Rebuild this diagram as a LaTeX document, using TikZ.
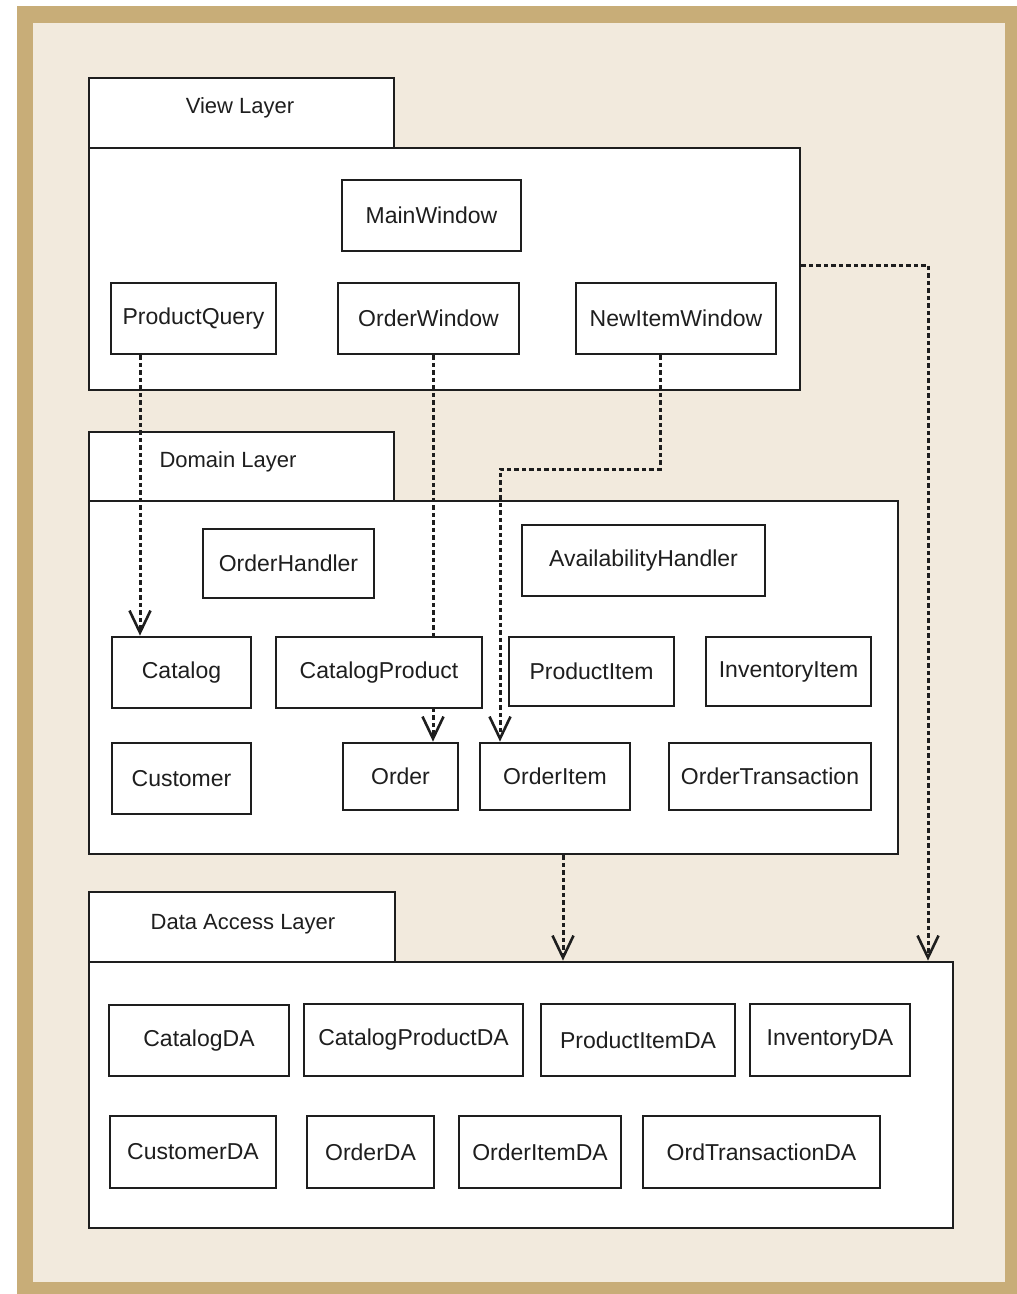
\documentclass[tikz,border=0pt]{standalone}
\usepackage{fontspec}
\setmainfont{Liberation Sans}
\usetikzlibrary{arrows.meta}
\definecolor{frametan}{RGB}{200,173,120}
\definecolor{paper}{RGB}{242,234,221}
\definecolor{ink}{RGB}{30,30,30}
\pgfdeclarelayer{frame}
\pgfdeclarelayer{pkg}
\pgfdeclarelayer{conn}
\pgfsetlayers{frame,pkg,conn,main}
\tikzset{
  cls/.style={draw=ink, fill=white, line width=2.8pt, inner sep=0pt,
    text=ink, font=\fontsize{23}{26}\selectfont},
  pkgbox/.style={draw=ink, fill=white, line width=2.8pt, inner sep=0pt},
  pkglabel/.style={text=ink, inner sep=0pt, font=\fontsize{22}{25}\selectfont},
  dep/.style={draw=ink, line width=3pt, dash pattern=on 4.5pt off 3pt,
    -{Straight Barb[length=22pt,width=21pt,line width=2.6pt]}},
}
% box from corner (x1,y1) to corner (x2,y2)
\newcommand\boxcorners[7]{%
  \node[#1, minimum width={#5-#3}, minimum height={#6-#4}]
    (#2) at ({(#3+#5)/2},{(#4+#6)/2}) {#7};}
\begin{document}
\begin{tikzpicture}[x=1pt,y=-1pt]
\useasboundingbox (0,0) rectangle (1017,1294);
\begin{pgfonlayer}{frame}
\fill[white] (0,0) rectangle (1017,1294);
\fill[frametan] (17,6) rectangle (1017,1294);
\fill[paper] (33,23) rectangle (1005,1282);
\end{pgfonlayer}

% packages
\begin{pgfonlayer}{pkg}
\boxcorners{pkgbox}{viewtab}{89}{78}{394}{148}{}
\boxcorners{pkgbox}{viewbody}{89}{148}{800}{390}{}
\boxcorners{pkgbox}{domtab}{89}{432}{394}{501}{}
\boxcorners{pkgbox}{dombody}{89}{501}{898}{854}{}
\boxcorners{pkgbox}{datab}{89}{892}{395}{962}{}
\boxcorners{pkgbox}{dabody}{89}{962}{953}{1228}{}
\node[pkglabel] (viewlabel) at (240,108) {View Layer};
\node[pkglabel] (domlabel) at (228,462) {Domain Layer};
\node[pkglabel] (dalabel) at (243,924) {Data Access Layer};
\end{pgfonlayer}

% view layer classes
\boxcorners{cls}{mw}{342}{180}{521}{251}{MainWindow}
\boxcorners{cls}{pq}{111}{283}{276}{354}{ProductQuery}
\boxcorners{cls}{ow}{338}{283}{519}{354}{OrderWindow}
\boxcorners{cls}{niw}{576}{283}{776}{354}{NewItemWindow}

% domain layer classes
\boxcorners{cls}{oh}{203}{529}{374}{598}{OrderHandler}
\boxcorners{cls}{ah}{522}{525}{765}{596}{AvailabilityHandler}
\boxcorners{cls}{cat}{112}{637}{251}{708}{Catalog}
\boxcorners{cls}{cp}{276}{637}{482}{708}{CatalogProduct}
\boxcorners{cls}{pi}{509}{637}{674}{706}{ProductItem}
\boxcorners{cls}{ii}{706}{637}{871}{706}{InventoryItem}
\boxcorners{cls}{cust}{112}{743}{251}{814}{Customer}
\boxcorners{cls}{ord}{343}{743}{458}{810}{Order}
\boxcorners{cls}{oi}{480}{743}{630}{810}{OrderItem}
\boxcorners{cls}{ot}{669}{743}{871}{810}{OrderTransaction}

% data access classes
\boxcorners{cls}{catda}{109}{1005}{289}{1076}{CatalogDA}
\boxcorners{cls}{cpda}{304}{1004}{523}{1076}{CatalogProductDA}
\boxcorners{cls}{pida}{541}{1004}{735}{1076}{ProductItemDA}
\boxcorners{cls}{invda}{750}{1004}{910}{1076}{InventoryDA}
\boxcorners{cls}{custda}{110}{1116}{276}{1188}{CustomerDA}
\boxcorners{cls}{ordda}{307}{1116}{434}{1188}{OrderDA}
\boxcorners{cls}{oida}{459}{1116}{621}{1188}{OrderItemDA}
\boxcorners{cls}{otda}{643}{1116}{880}{1188}{OrdTransactionDA}

% guide points for the dependency routes
\coordinate (pqx) at (140,0);
\coordinate (owx) at (433,0);
\coordinate (bendA) at (660,469);
\coordinate (bendB) at (500,469);
\coordinate (domx) at (563,0);
\coordinate (viewy) at (0,265);
\coordinate (rightx) at (928,265);

\begin{pgfonlayer}{conn}
\draw[dep] (pq.south -| pqx) -- (cat.north -| pqx);
\draw[dep] (ow.south -| owx) -- (ord.north -| owx);
\draw[dep] (niw.south -| bendA) -- (bendA) -- (bendB) -- (oi.north -| bendB);
\draw[dep] (dombody.south -| domx) -- (dabody.north -| domx);
\draw[dep] (viewbody.east |- viewy) -- (rightx) -- (dabody.north -| rightx);
\end{pgfonlayer}
\end{tikzpicture}
\end{document}
